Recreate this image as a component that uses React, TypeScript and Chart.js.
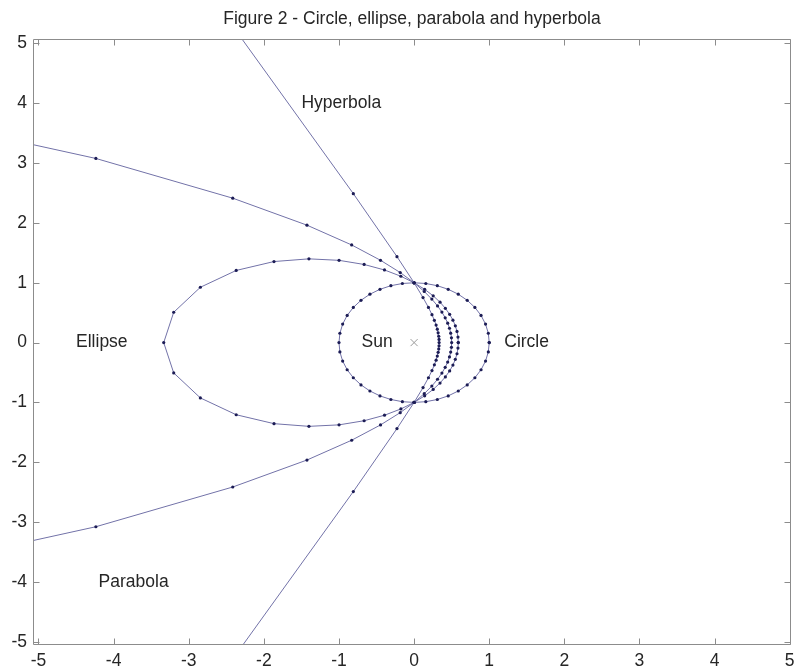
import React, { useEffect, useRef } from "react";
import { Chart, registerables } from "chart.js";

Chart.register(...registerables);

const titleText = "Figure 2 - Circle, ellipse, parabola and hyperbola";

const xTickValues = [-5, -4, -3, -2, -1, 0, 1, 2, 3, 4, 5];
const yTickValues = [-5, -4, -3, -2, -1, 0, 1, 2, 3, 4, 5];

const circleX = [1, 0.988, 0.951, 0.891, 0.809, 0.707, 0.588, 0.454, 0.309, 0.156, 0, -0.156, -0.309, -0.454, -0.588, -0.707, -0.809, -0.891, -0.951, -0.988, -1, -0.988, -0.951, -0.891, -0.809, -0.707, -0.588, -0.454, -0.309, -0.156, 0, 0.156, 0.309, 0.454, 0.588, 0.707, 0.809, 0.891, 0.951, 0.988, 1];
const circleY = [0, 0.156, 0.309, 0.454, 0.588, 0.707, 0.809, 0.891, 0.951, 0.988, 1, 0.988, 0.951, 0.891, 0.809, 0.707, 0.588, 0.454, 0.309, 0.156, 0, -0.156, -0.309, -0.454, -0.588, -0.707, -0.809, -0.891, -0.951, -0.988, -1, -0.988, -0.951, -0.891, -0.809, -0.707, -0.588, -0.454, -0.309, -0.156, 0];

const ellipseX = [0.588, 0.584, 0.571, 0.549, 0.517, 0.473, 0.416, 0.345, 0.254, 0.141, 0, -0.176, -0.394, -0.665, -0.999, -1.4, -1.865, -2.368, -2.845, -3.2, -3.333, -3.2, -2.845, -2.368, -1.865, -1.4, -0.999, -0.665, -0.394, -0.176, 0, 0.141, 0.254, 0.345, 0.416, 0.473, 0.517, 0.549, 0.571, 0.584, 0.588];
const ellipseY = [0, 0.092, 0.186, 0.28, 0.375, 0.473, 0.573, 0.676, 0.782, 0.89, 1, 1.109, 1.214, 1.306, 1.375, 1.4, 1.355, 1.206, 0.925, 0.507, 0, -0.507, -0.925, -1.206, -1.355, -1.4, -1.375, -1.306, -1.214, -1.109, -1, -0.89, -0.782, -0.676, -0.573, -0.473, -0.375, -0.28, -0.186, -0.092, 0];

const parabolaX = [-19.433, -8.175, -4.236, -2.414, -1.426, -0.831, -0.447, -0.185, 0, 0.135, 0.236, 0.312, 0.37, 0.414, 0.447, 0.471, 0.487, 0.497, 0.5, 0.497, 0.487, 0.471, 0.447, 0.414, 0.37, 0.312, 0.236, 0.135, 0, -0.185, -0.447, -0.831, -1.426, -2.414, -4.236, -8.175, -19.433];
const parabolaY = [-6.314, -4.165, -3.078, -2.414, -1.963, -1.632, -1.376, -1.171, -1, -0.854, -0.727, -0.613, -0.51, -0.414, -0.325, -0.24, -0.158, -0.079, 0, 0.079, 0.158, 0.24, 0.325, 0.414, 0.51, 0.613, 0.727, 0.854, 1, 1.171, 1.376, 1.632, 1.963, 2.414, 3.078, 4.165, 6.314];

const hyperbolaX = [-4.934, -0.809, -0.228, 0, 0.119, 0.191, 0.238, 0.27, 0.293, 0.309, 0.32, 0.328, 0.332, 0.333, 0.332, 0.328, 0.32, 0.309, 0.293, 0.27, 0.238, 0.191, 0.119, 0, -0.228, -0.809, -4.934];
const hyperbolaY = [-9.683, -2.49, -1.437, -1, -0.752, -0.588, -0.467, -0.372, -0.293, -0.225, -0.163, -0.106, -0.053, 0, 0.053, 0.106, 0.163, 0.225, 0.293, 0.372, 0.467, 0.588, 0.752, 1, 1.437, 2.49, 9.683];

const sunX = [0];
const sunY = [0];

const labelTexts = ["Hyperbola", "Ellipse", "Sun", "Circle", "Parabola"];
const labelX = [-1.5, -4.5, -0.7, 1.2, -4.2];
const labelY = [4, 0, 0, 0, -4];

const FONT_FAMILY = '"Liberation Sans", Arial, Helvetica, sans-serif';
const FONT_SIZE = 17.5;
const TEXT_COLOR = "#262626";
const LINE_COLOR = "#7272a8";
const DOT_COLOR = "#1c1c55";
const BOX_COLOR = "#8c8c8c";

const axesBoxPlugin = {
  id: "axesBox",
  afterDatasetsDraw(chart: any) {
    const { ctx, chartArea, scales } = chart;
    const xs = scales.x;
    const ys = scales.y;
    const L = Math.round(chartArea.left) + 0.5;
    const R = Math.round(chartArea.right) - 0.5;
    const T = Math.round(chartArea.top) + 0.5;
    const B = Math.round(chartArea.bottom) - 0.5;
    const tl = 6;
    ctx.save();
    ctx.strokeStyle = BOX_COLOR;
    ctx.lineWidth = 1;
    ctx.beginPath();
    ctx.rect(L, T, R - L, B - T);
    xTickValues.forEach((v) => {
      const px = Math.round(xs.getPixelForValue(v)) + 0.5;
      ctx.moveTo(px, B);
      ctx.lineTo(px, B - tl);
      ctx.moveTo(px, T);
      ctx.lineTo(px, T + tl);
    });
    yTickValues.forEach((v) => {
      const py = Math.round(ys.getPixelForValue(v)) + 0.5;
      ctx.moveTo(L, py);
      ctx.lineTo(L + tl, py);
      ctx.moveTo(R, py);
      ctx.lineTo(R - tl, py);
    });
    ctx.stroke();
    ctx.restore();
  },
};

const textLabelsPlugin = {
  id: "textLabels",
  afterDatasetsDraw(chart: any) {
    const { ctx, scales } = chart;
    ctx.save();
    ctx.font = `${FONT_SIZE}px ${FONT_FAMILY}`;
    ctx.fillStyle = TEXT_COLOR;
    ctx.textAlign = "left";
    ctx.textBaseline = "middle";
    labelTexts.forEach((t, i) => {
      ctx.fillText(t, scales.x.getPixelForValue(labelX[i]), scales.y.getPixelForValue(labelY[i]));
    });
    ctx.restore();
  },
};

function toPoints(xs: number[], ys: number[]) {
  return xs.map((x, i) => ({ x, y: ys[i] }));
}

function curve(label: string, xs: number[], ys: number[]) {
  return {
    label,
    data: toPoints(xs, ys),
    showLine: true,
    borderColor: LINE_COLOR,
    borderWidth: 1,
    backgroundColor: DOT_COLOR,
    pointRadius: 1.6,
    pointBackgroundColor: DOT_COLOR,
    pointBorderWidth: 0,
    pointHoverRadius: 1.6,
    tension: 0,
  };
}

export default function App() {
  const ref = useRef<HTMLCanvasElement | null>(null);

  useEffect(() => {
    if (!ref.current) return;
    const tickFont = { family: FONT_FAMILY, size: FONT_SIZE };
    const chart = new Chart(ref.current, {
      type: "scatter",
      data: {
        datasets: [
          curve("Hyperbola", hyperbolaX, hyperbolaY),
          curve("Parabola", parabolaX, parabolaY),
          curve("Ellipse", ellipseX, ellipseY),
          curve("Circle", circleX, circleY),
          {
            label: "Sun",
            data: toPoints(sunX, sunY),
            showLine: false,
            pointStyle: "crossRot",
            pointRadius: 5,
            borderColor: "#9a9a9a",
            pointBorderColor: "#9a9a9a",
            borderWidth: 1,
          } as any,
        ],
      },
      options: {
        responsive: false,
        animation: false,
        events: [],
        layout: { padding: { left: 0, right: 2, top: 0, bottom: 0 } },
        plugins: {
          legend: { display: false },
          tooltip: { enabled: false },
          title: {
            display: true,
            text: titleText,
            fullSize: false,
            color: TEXT_COLOR,
            font: { family: FONT_FAMILY, size: FONT_SIZE, weight: "normal", lineHeight: 1.2 },
            padding: { top: 9, bottom: 9 },
          },
        },
        scales: {
          x: {
            type: "linear",
            min: -5.073,
            max: 5.017,
            grid: { display: false, drawTicks: false },
            border: { display: false },
            ticks: { font: tickFont, color: TEXT_COLOR, padding: 6, maxRotation: 0, autoSkip: false },
            afterBuildTicks: (s: any) => {
              s.ticks = xTickValues.map((v) => ({ value: v }));
            },
            afterFit: (s: any) => {
              s.height = 22;
              s.paddingLeft = 0;
              s.paddingRight = 0;
            },
          },
          y: {
            type: "linear",
            min: -5.055,
            max: 5.075,
            grid: { display: false, drawTicks: false },
            border: { display: false },
            ticks: { font: tickFont, color: TEXT_COLOR, padding: 6, autoSkip: false },
            afterBuildTicks: (s: any) => {
              s.ticks = yTickValues.map((v) => ({ value: v }));
            },
            afterFit: (s: any) => {
              s.width = 33;
              s.paddingTop = 0;
              s.paddingBottom = 0;
            },
          },
        },
      } as any,
      plugins: [axesBoxPlugin, textLabelsPlugin],
    });
    return () => chart.destroy();
  }, []);

  return (
    <div style={{ position: "absolute", left: 0, top: 0, width: 797, height: 667, background: "#ffffff" }}>
      <canvas ref={ref} width={797} height={667} style={{ display: "block", width: 797, height: 667 }} />
    </div>
  );
}
